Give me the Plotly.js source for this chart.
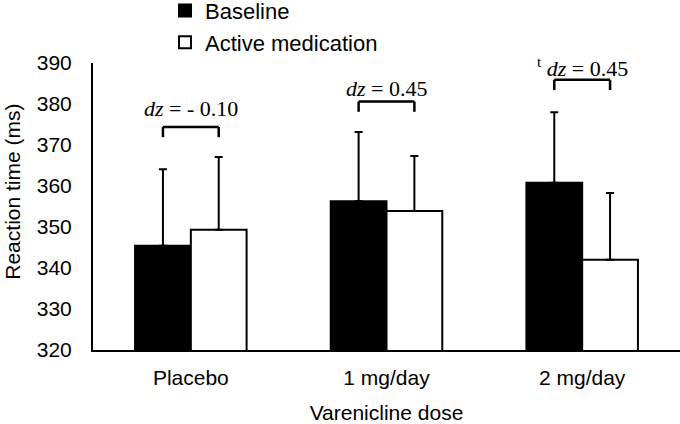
<!DOCTYPE html>
<html>
<head>
<meta charset="utf-8">
<script src="https://cdn.plot.ly/plotly-3.0.1.min.js"></script>
<style>html,body{margin:0;padding:0;background:#fff;}#chart{width:680px;height:424px;}</style>
</head>
<body>
<div id="chart"></div>
<script>
const categories = ["Placebo", "1 mg/day", "2 mg/day"];
const baselineValues = [345.4, 356.3, 360.8];
const baselineErrors = [18.7, 16.9, 17.2];
const activeValues = [349.3, 353.9, 342.0];
const activeErrors = [17.8, 13.4, 16.3];
const effectLabels = ["<i>dz</i> = - 0.10", "<i>dz</i> = 0.45", "<sup>t</sup> <i>dz</i> = 0.45"];
const labelY = [378.8, 383.9, 389.0];
const bracketTop = [374.4, 380.6, 385.9];
const bracketLeg = 2.5;
const seriesNames = ["Baseline", "Active medication"];
const yTitle = "Reaction time (ms)";
const xTitle = "Varenicline dose";

const sans = "Liberation Sans, Arial, sans-serif";
const serif = "Liberation Serif, Times New Roman, serif";
const bargap = 0.43;
const off = (1 - bargap) / 4;

const traces = [
  {
    type: "bar", name: seriesNames[0], x: categories, y: baselineValues, legendgroup: "a",
    marker: {color: "#000", line: {color: "#000", width: 2}},
    error_y: {type: "data", symmetric: false, array: baselineErrors, arrayminus: [0,0,0], color: "#000", thickness: 2, width: 4}
  },
  {
    type: "bar", name: seriesNames[1], x: categories, y: activeValues, legendgroup: "b",
    marker: {color: "#fff", line: {color: "#000", width: 2}},
    error_y: {type: "data", symmetric: false, array: activeErrors, arrayminus: [0,0,0], color: "#000", thickness: 2, width: 4}
  }
];

const shapes = [];
const annotations = [];
categories.forEach((c, i) => {
  const x0 = i - off, x1 = i + off;
  const yt = bracketTop[i], yb = bracketTop[i] - bracketLeg;
  const ln = {color: "#000", width: 2.5};
  shapes.push({type: "line", xref: "x", yref: "y", x0: x0, x1: x1, y0: yt, y1: yt, line: ln});
  shapes.push({type: "line", xref: "x", yref: "y", x0: x0, x1: x0, y0: yt, y1: yb, line: ln});
  shapes.push({type: "line", xref: "x", yref: "y", x0: x1, x1: x1, y0: yt, y1: yb, line: ln});
  annotations.push({xref: "x", yref: "y", x: i, y: labelY[i], text: effectLabels[i], showarrow: false,
    xanchor: "center", yanchor: "middle", font: {family: serif, size: 22, color: "#000"}});
});
annotations.push({xref: "paper", yref: "paper", x: -0.137, y: 0.55, text: yTitle, textangle: -90,
  showarrow: false, xanchor: "center", yanchor: "middle", font: {family: sans, size: 21, color: "#000"}});

const layout = {
  width: 680, height: 424,
  margin: {l: 93, r: 0, t: 63, b: 74, pad: 0, autoexpand: false},
  paper_bgcolor: "#fff", plot_bgcolor: "#fff",
  font: {family: sans, size: 21, color: "#000"},
  barmode: "group", bargap: bargap, bargroupgap: 0,
  showlegend: true,
  legend: {x: 0.1227, y: 1.255, xanchor: "left", yanchor: "top", bgcolor: "rgba(0,0,0,0)",
    traceorder: "grouped", tracegroupgap: 0,
    font: {family: sans, size: 22, color: "#000"}},
  xaxis: {
    type: "category", range: [-0.5, 2.5], showline: true, linecolor: "#000", linewidth: 2,
    ticks: "", showgrid: false, zeroline: false, tickfont: {family: sans, size: 21},
    ticklabelstandoff: 8,
    title: {text: xTitle, font: {family: sans, size: 21}, standoff: 20}
  },
  yaxis: {
    range: [320, 390], dtick: 10, tick0: 320, showline: true, linecolor: "#000", linewidth: 2,
    ticks: "", showgrid: false, zeroline: false, tickfont: {family: sans, size: 21},
    ticklabelstandoff: 15
  },
  shapes: shapes,
  annotations: annotations
};

Plotly.newPlot("chart", traces, layout, {displayModeBar: false, staticPlot: true});
</script>
</body>
</html>
